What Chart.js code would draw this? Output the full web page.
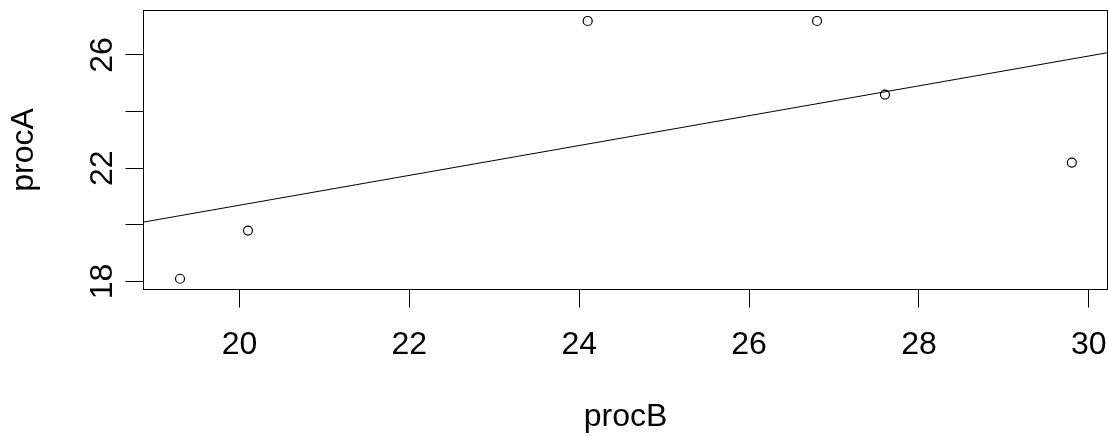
<!DOCTYPE html>
<html>
<head>
<meta charset="utf-8">
<script src="https://cdn.jsdelivr.net/npm/chart.js@4.4.1/dist/chart.umd.min.js"></script>
<style>
  html, body { margin: 0; padding: 0; background: #ffffff; }
  #wrap { width: 1108px; height: 436px; }
</style>
</head>
<body>
<div id="wrap"><canvas id="c" width="1108" height="436"></canvas></div>
<script>
// ---- data ----
const procB = [19.3, 20.1, 24.1, 26.8, 27.6, 29.8];
const procA = [18.1, 19.8, 27.2, 27.2, 24.6, 22.2];
// fitted line, read at the two plot edges
const fitX = [18.87, 30.22];
const fitY = [20.1, 26.08];
// axes
const xTicks = [20, 22, 24, 26, 28, 30];
const xTickLabels = ['20', '22', '24', '26', '28', '30'];
const yTicks = [18, 20, 22, 24, 26];
const yTickLabels = ['18', '', '22', '', '26'];
const xLimits = [18.87, 30.22];
const yLimits = [17.72, 27.57];
const xTitle = 'procB';
const yTitle = 'procA';

const FONT = '"Liberation Sans", Arial, sans-serif';

const points = procB.map((x, i) => ({ x: x, y: procA[i] }));
const fitLine = fitX.map((x, i) => ({ x: x, y: fitY[i] }));

const boxAndLabels = {
  id: 'boxAndLabels',
  afterDraw(chart) {
    const { ctx, chartArea: a, scales } = chart;
    ctx.save();
    ctx.strokeStyle = '#000';
    ctx.lineWidth = 1;
    ctx.strokeRect(a.left, a.top, a.right - a.left, a.bottom - a.top);
    ctx.fillStyle = '#000';
    ctx.font = '32px ' + FONT;
    // x tick labels, placed through the x scale
    const xs = scales.x;
    ctx.textAlign = 'center';
    ctx.textBaseline = 'middle';
    xTicks.forEach((v, i) => {
      ctx.fillText(xTickLabels[i], xs.getPixelForValue(v), a.bottom + 55.5);
    });
    // rotated y tick labels (R style, las=0), placed through the y scale
    const ys = scales.y;
    ctx.textBaseline = 'alphabetic';
    yTicks.forEach((v, i) => {
      const lab = yTickLabels[i];
      if (!lab) return;
      const py = ys.getPixelForValue(v);
      ctx.save();
      ctx.translate(a.left - 32, py);
      ctx.rotate(-Math.PI / 2);
      ctx.fillText(lab, 0, 0);
      ctx.restore();
    });
    ctx.restore();
  }
};

new Chart(document.getElementById('c'), {
  type: 'scatter',
  data: {
    datasets: [
      {
        label: 'points',
        data: points,
        pointStyle: 'circle',
        pointRadius: 4.5,
        pointHoverRadius: 4.5,
        pointBorderWidth: 1.2,
        borderColor: '#000',
        backgroundColor: 'rgba(0,0,0,0)',
        pointBackgroundColor: 'rgba(0,0,0,0)'
      },
      {
        type: 'line',
        label: 'fit',
        data: fitLine,
        borderColor: '#000',
        borderWidth: 1,
        pointRadius: 0,
        fill: false,
        tension: 0
      }
    ]
  },
  options: {
    responsive: false,
    devicePixelRatio: 1,
    animation: false,
    events: [],
    layout: { autoPadding: false, padding: { left: 0, top: 10.5, right: 0.5, bottom: 0 } },
    plugins: { legend: { display: false }, tooltip: { enabled: false } },
    scales: {
      x: {
        type: 'linear',
        position: 'bottom',
        min: xLimits[0],
        max: xLimits[1],
        afterBuildTicks: s => { s.ticks = xTicks.map(v => ({ value: v })); },
        afterFit: s => { s.height = 146.5; },
        grid: { display: true, drawOnChartArea: false, drawTicks: true, tickLength: 18, color: '#000', lineWidth: 1 },
        border: { display: false },
        ticks: { display: false },
        title: {
          display: true,
          text: xTitle,
          color: '#000',
          font: { family: FONT, size: 32 },
          padding: { top: 0, bottom: 0 }
        }
      },
      y: {
        type: 'linear',
        position: 'left',
        min: yLimits[0],
        max: yLimits[1],
        afterBuildTicks: s => { s.ticks = yTicks.map(v => ({ value: v })); },
        afterFit: s => { s.width = 143.5; },
        grid: { display: true, drawOnChartArea: false, drawTicks: true, tickLength: 18, color: '#000', lineWidth: 1 },
        border: { display: false },
        ticks: { display: false },
        title: {
          display: true,
          text: yTitle,
          color: '#000',
          font: { family: FONT, size: 32 },
          padding: { top: 5, bottom: 0 }
        }
      }
    }
  },
  plugins: [boxAndLabels]
});
</script>
</body>
</html>
